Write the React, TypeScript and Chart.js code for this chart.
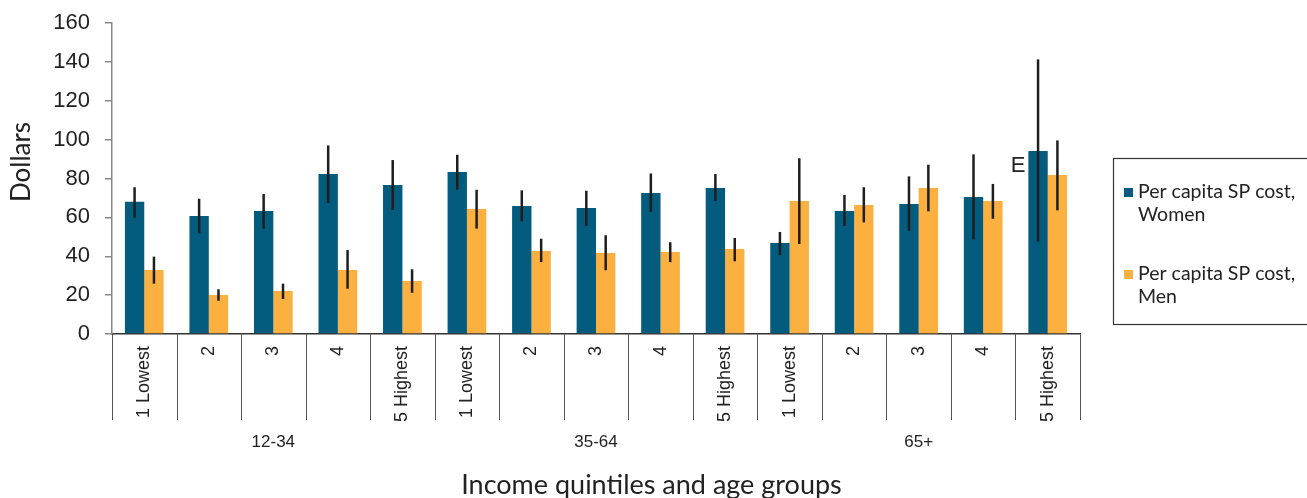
import React, { useEffect, useRef } from "react";
import { Chart, registerables } from "chart.js";

Chart.register(...registerables);

// ---------- data ----------
const quintileLabels = [
  "1 Lowest", "2", "3", "4", "5 Highest",
  "1 Lowest", "2", "3", "4", "5 Highest",
  "1 Lowest", "2", "3", "4", "5 Highest",
];
const ageGroups = ["12-34", "35-64", "65+"];
const quintilesPerGroup = 5;

const womenCost = [68, 60.7, 63.3, 82.3, 76.6, 83.3, 65.8, 64.8, 72.5, 75.1, 46.8, 63.3, 66.9, 70.5, 94.1];
const womenLow = [59.8, 51.8, 54.2, 67.4, 63.8, 74.2, 58, 55.6, 62.8, 68.4, 40.6, 55.6, 53.1, 48.7, 47.5];
const womenHigh = [75.5, 69.6, 72, 97, 89.5, 92.2, 73.9, 73.7, 82.6, 82.3, 52.5, 71.5, 81.1, 92.4, 141.3];
const womenFlags = ["", "", "", "", "", "", "", "", "", "", "", "", "", "", "E"];

const menCost = [32.9, 20.1, 22.1, 32.9, 27.3, 64.3, 42.7, 41.7, 42.2, 43.7, 68.4, 66.4, 75.1, 68.4, 81.8];
const menLow = [25.9, 17.1, 18, 23.3, 21.2, 54.2, 37, 32.8, 37, 37.4, 46.3, 57.4, 63.1, 59.3, 63.6];
const menHigh = [39.8, 23, 25.9, 43.2, 33.3, 74.2, 49, 50.8, 47.2, 49.4, 90.4, 75.5, 87.1, 77.2, 99.6];

const seriesNames = [["Per capita SP cost,", "Women"], ["Per capita SP cost,", "Men"]];
const yMin = 0;
const yMax = 160;
const yStep = 20;
const yTitle = "Dollars";
const xTitle = "Income quintiles and age groups";

// ---------- styles ----------
const TEAL = "#035b7e";
const ORANGE = "#fbb040";
const SANS = "'Liberation Sans', Arial, sans-serif";
const ROUND = "Lato, 'Open Sans', sans-serif";

const errorBars = [
  { low: womenLow, high: womenHigh },
  { low: menLow, high: menHigh },
];
const flags = [womenFlags, null];

const extrasPlugin = {
  id: "extras",
  afterDatasetsDraw(chart: any) {
    const { ctx } = chart;
    const y = chart.scales.y;
    ctx.save();
    chart.data.datasets.forEach((_: any, di: number) => {
      const meta = chart.getDatasetMeta(di);
      const eb = errorBars[di];
      meta.data.forEach((bar: any, i: number) => {
        const y1 = y.getPixelForValue(eb.low[i]);
        const y2 = y.getPixelForValue(eb.high[i]);
        ctx.beginPath();
        ctx.strokeStyle = "#1e1e1e";
        ctx.lineWidth = 2.5;
        ctx.moveTo(bar.x, y1);
        ctx.lineTo(bar.x, y2);
        ctx.stroke();
        const f = flags[di];
        if (f && f[i]) {
          ctx.fillStyle = "#222";
          ctx.font = `22px ${SANS}`;
          ctx.textAlign = "right";
          ctx.textBaseline = "middle";
          ctx.fillText(f[i], bar.x - bar.width / 2 - 3, bar.y + 15);
        }
      });
    });
    ctx.restore();
  },
  afterDraw(chart: any) {
    const { ctx, chartArea, width } = chart;
    const x = chart.scales.x;
    const n = quintileLabels.length;
    const half = (x.getPixelForValue(1) - x.getPixelForValue(0)) / 2;
    ctx.save();
    // category separators
    ctx.strokeStyle = "#555";
    ctx.lineWidth = 1;
    for (let i = 0; i <= n; i++) {
      const px = Math.round(x.getPixelForValue(i) - half) + 0.5;
      ctx.beginPath();
      ctx.moveTo(px, chartArea.bottom);
      ctx.lineTo(px, chartArea.bottom + 86);
      ctx.stroke();
    }
    // group labels
    ctx.fillStyle = "#222";
    ctx.font = `17px ${SANS}`;
    ctx.textAlign = "center";
    ctx.textBaseline = "middle";
    ageGroups.forEach((g, gi) => {
      const a = x.getPixelForValue(gi * quintilesPerGroup) - half;
      const b = x.getPixelForValue((gi + 1) * quintilesPerGroup - 1) + half;
      ctx.fillText(g, (a + b) / 2, chartArea.bottom + 108);
    });
    // axis titles
    ctx.font = `27px ${ROUND}`;
    ctx.fillText(xTitle, width / 2 - 2, chartArea.bottom + 151);
    ctx.save();
    ctx.translate(22, chartArea.top + 139);
    ctx.rotate(-Math.PI / 2);
    ctx.font = `26px ${ROUND}`;
    ctx.fillText(yTitle, 0, 0);
    ctx.restore();
    // legend box
    const lx = chartArea.right + 33;
    const ly = 158;
    ctx.strokeStyle = "#333";
    ctx.lineWidth = 1.2;
    ctx.strokeRect(lx + 0.5, ly + 0.5, 260, 166);
    ctx.font = `19.5px ${ROUND}`;
    ctx.textAlign = "left";
    ctx.textBaseline = "middle";
    const colors = [TEAL, ORANGE];
    seriesNames.forEach((lines, si) => {
      const top = ly + 34 + si * 82;
      ctx.fillStyle = colors[si];
      ctx.fillRect(lx + 11, top - 4, 9, 9);
      ctx.fillStyle = "#222";
      lines.forEach((t, li) => ctx.fillText(t, lx + 25, top + li * 23));
    });
    ctx.restore();
  },
};

export default function App() {
  const ref = useRef<HTMLCanvasElement | null>(null);
  useEffect(() => {
    if (!ref.current) return;
    const chart = new Chart(ref.current, {
      type: "bar",
      data: {
        labels: quintileLabels,
        datasets: [
          { label: seriesNames[0].join(" "), data: womenCost, backgroundColor: TEAL },
          { label: seriesNames[1].join(" "), data: menCost, backgroundColor: ORANGE },
        ],
      },
      options: {
        animation: false,
        responsive: false,
        devicePixelRatio: 1,
        layout: { padding: { left: 0, right: 227, top: 23, bottom: 0 } },
        plugins: { legend: { display: false }, tooltip: { enabled: false } },
        datasets: { bar: { categoryPercentage: 0.6, barPercentage: 1 } },
        scales: {
          x: {
            grid: { display: false },
            border: { display: true, color: "#333", width: 1.5 },
            ticks: {
              autoSkip: false,
              minRotation: 90,
              maxRotation: 90,
              padding: 4,
              color: "#222",
              font: { family: SANS, size: 18 },
            },
            afterFit(scale: any) {
              scale.height = 164;
            },
          },
          y: {
            min: yMin,
            max: yMax,
            grid: { drawOnChartArea: false, drawTicks: true, tickLength: 7, color: "#888", lineWidth: 1.5 },
            border: { display: true, color: "#888", width: 1.5 },
            ticks: {
              stepSize: yStep,
              padding: 15,
              color: "#222",
              font: { family: SANS, size: 22 },
            },
            afterFit(scale: any) {
              scale.width = 112;
              scale.paddingTop = 12;
              scale.paddingBottom = 12;
            },
          },
        },
      },
      plugins: [extrasPlugin],
    });
    return () => chart.destroy();
  }, []);
  return (
    <div style={{ position: "absolute", left: 0, top: 0, width: 1307, height: 498 }}>
      <canvas ref={ref} width={1307} height={498} />
    </div>
  );
}
